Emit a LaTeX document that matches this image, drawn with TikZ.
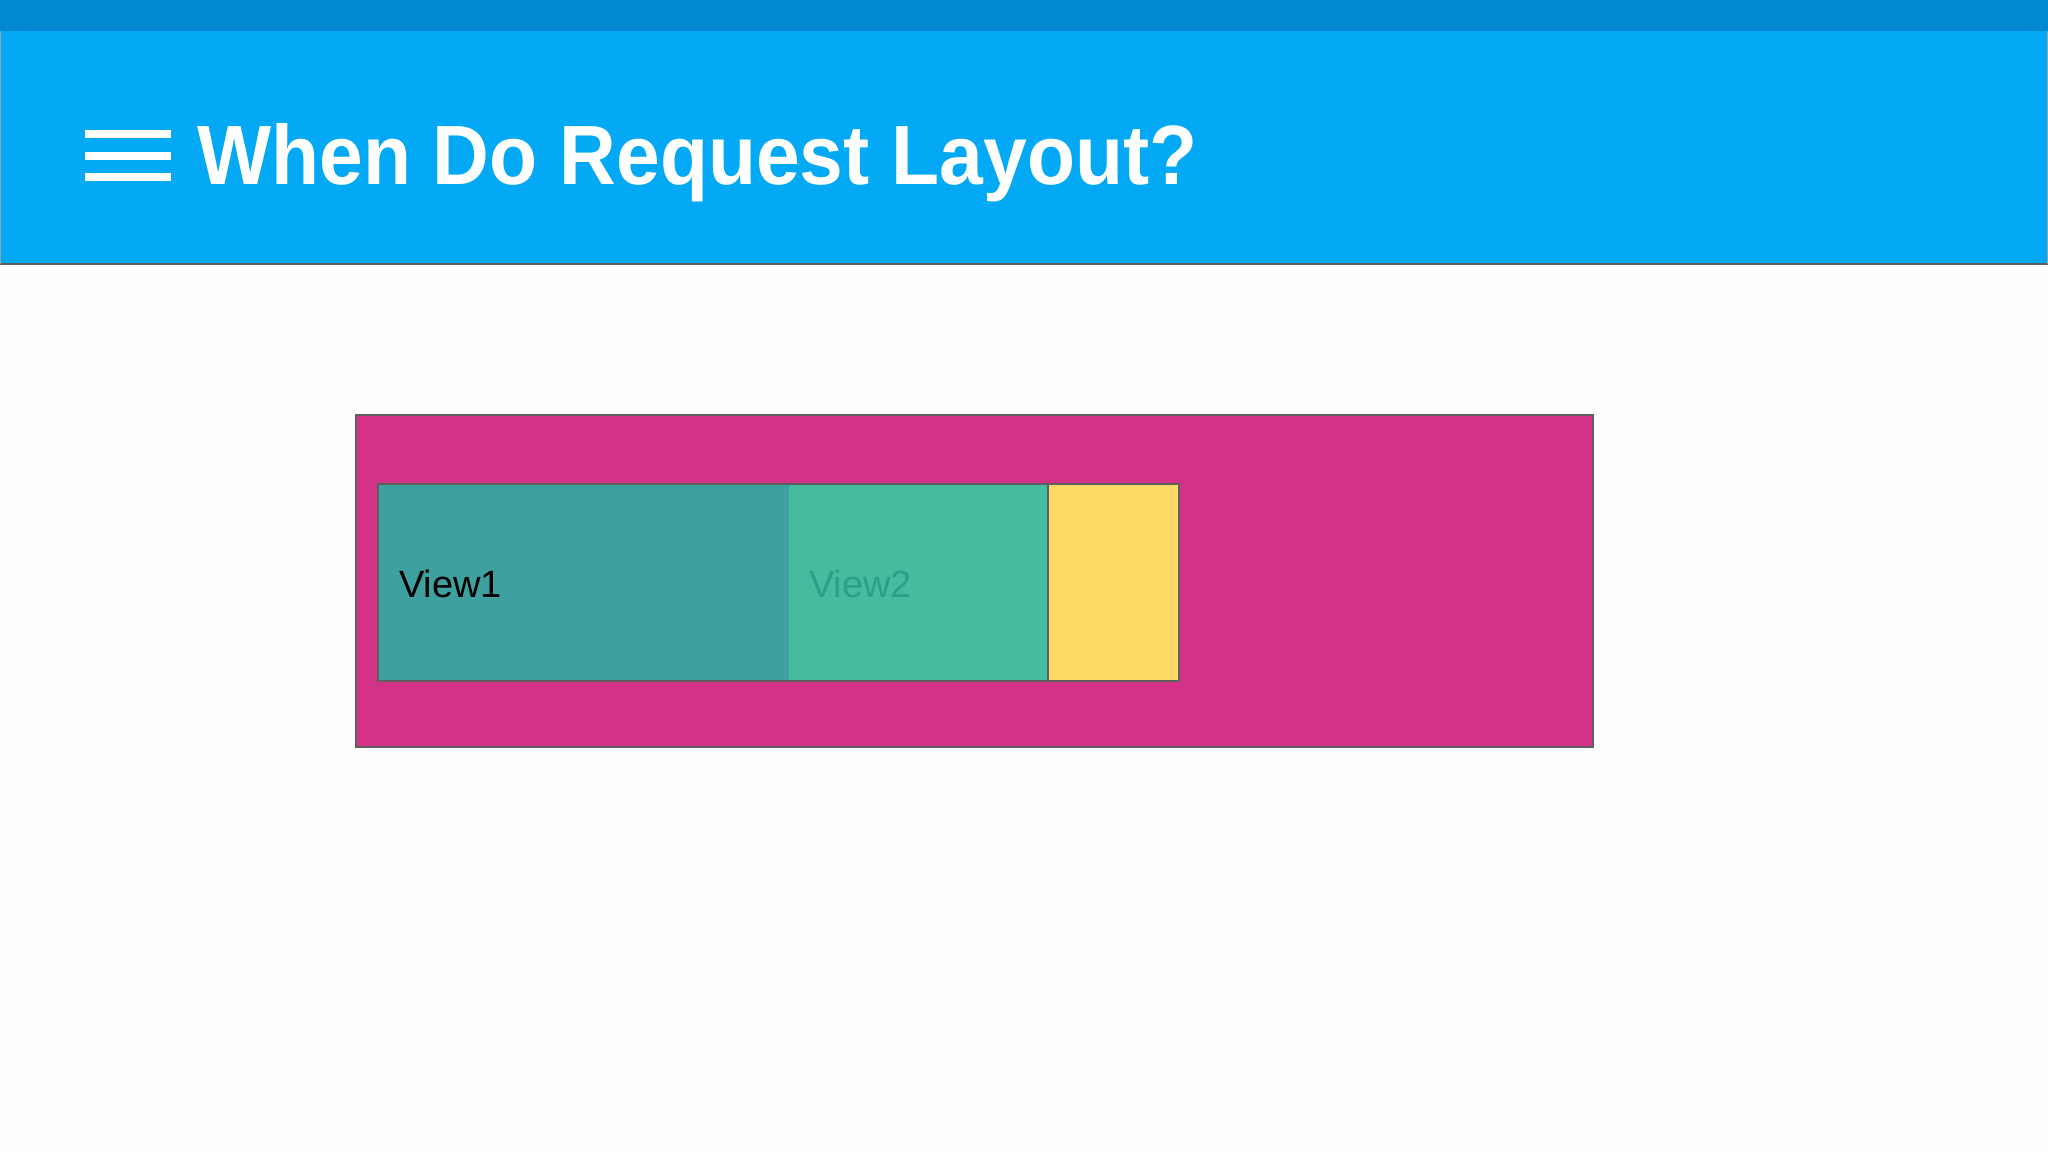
\documentclass[tikz,border=0pt]{standalone}
\usepackage{fontspec}
\setmainfont{Liberation Sans}
\usepackage{graphicx}
\definecolor{topbar}{HTML}{0288D1}
\definecolor{header}{HTML}{03A9F4}
\definecolor{pinkbg}{HTML}{D43188}
\definecolor{tealA}{HTML}{3FA0A0}
\definecolor{tealB}{HTML}{44BC9D}
\definecolor{yellowbox}{HTML}{FFD966}
\definecolor{edge}{HTML}{5F5F5F}
\definecolor{viewtwo}{HTML}{2E9E8B}
\definecolor{pagebg}{HTML}{FDFDFD}
\tikzset{
  boxline/.style={draw=edge, line width=2pt},
  hamline/.style={draw=white, line width=8pt},
  viewlabel/.style={anchor=base west, inner sep=0pt, font=\fontsize{38}{40}\selectfont}
}
\begin{document}
\begin{tikzpicture}[x=1pt,y=-1pt]
\useasboundingbox (0,0) rectangle (2048,1152);
\fill[pagebg] (0,0) rectangle (2048,1152);
% header
\fill[header] (0,31) rectangle (2048,264);
\fill[topbar] (0,0) rectangle (2048,31);
\draw[edge, line width=2pt] (0,264) -- (2048,264);
\draw[edge!60, line width=1pt] (0.5,31) -- (0.5,264);
\draw[edge!60, line width=1pt] (2047.5,31) -- (2047.5,264);
% hamburger icon
\coordinate (h1a) at (85,134); \coordinate (h1b) at (171,134);
\coordinate (h2a) at (85,156); \coordinate (h2b) at (171,156);
\coordinate (h3a) at (85,177); \coordinate (h3b) at (171,177);
\draw[hamline] (h1a) -- (h1b);
\draw[hamline] (h2a) -- (h2b);
\draw[hamline] (h3a) -- (h3b);
% title
\node[anchor=base west, inner sep=0pt, text=white] (title) at (197,184)
  {\resizebox{1000pt}{61pt}{\bfseries When Do Request Layout?}};
% parent container
\node[boxline, fill=pinkbg, anchor=north west, minimum width=1237pt, minimum height=332pt, inner sep=0pt] (parent) at (355,414) {};
% views
\fill[tealA] (377,483) rectangle (789,680);
\fill[tealB] (789,483) rectangle (1047,680);
\node[boxline, fill=yellowbox, anchor=north west, minimum width=131pt, minimum height=197pt, inner sep=0pt] (yellow) at (1047,483) {};
\node[boxline, anchor=north west, minimum width=801pt, minimum height=197pt, inner sep=0pt] (row) at (377,483) {};
\node[viewlabel, text=black] (view1) at (399,597) {View1};
\node[viewlabel, text=viewtwo] (view2) at (809,597) {View2};
\end{tikzpicture}
\end{document}
